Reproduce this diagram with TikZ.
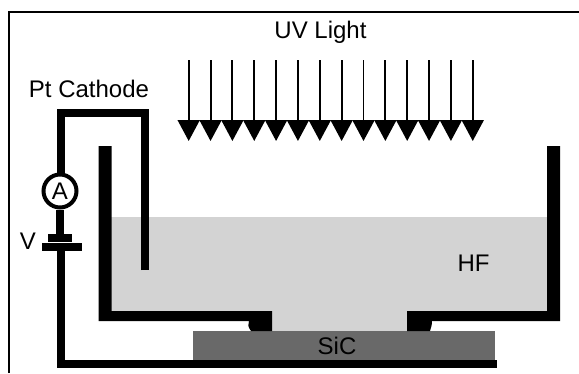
\documentclass[tikz,border=0pt]{standalone}
\usepackage{fontspec}
\setmainfont{Liberation Sans}
\usetikzlibrary{arrows.meta}

\definecolor{hfgray}{HTML}{D3D3D3}
\definecolor{sicgray}{HTML}{696969}

\begin{document}
\begin{tikzpicture}[x=1pt, y=-1pt,
    label/.style={font=\fontsize{24}{24}\selectfont, inner sep=0pt},
    wire/.style={line width=8pt, line join=miter},
    ray/.style={line width=1.9pt, -{Triangle[length=21pt, width=22pt]}},
    plate/.style={rectangle, fill=black, inner sep=0pt}]

    \useasboundingbox (0,0) rectangle (579,373);

    % Frame
    \draw[line width=2.4pt] (9.2,373) -- (9.2,12) -- (579,12);

    % Liquid and substrate
    \fill[hfgray] (111,217) -- (548,217) -- (548,312) -- (407,312) -- (407,332)
        -- (272,332) -- (272,312) -- (111,312) -- cycle;
    \fill[sicgray] (192.7,331) rectangle (495,361);

    % Vessel
    \fill (98.7,146) -- (111.7,146) -- (111.7,311) -- (272,311) -- (272,331)
        -- (251,331) .. controls (248,327) and (247.5,324) .. (249,321)
        -- (98.7,321) -- cycle;
    \fill (547,146) -- (560,146) -- (560,321) -- (432,321)
        .. controls (432,325) and (431,328) .. (430,331)
        -- (407,331) -- (407,311) -- (547,311) -- cycle;

    % Nodes
    \node (light) [label] at (320.5,32) {UV Light};
    \node (cathode) [label] at (89,89) {Pt Cathode};
    \node (hf) [label] at (473.5,263.5) {HF};
    \node (sic) [label] at (337,345.5) {SiC};
    \node (volt) [label] at (28,241) {V};
    \node (ammeter) [circle, draw, line width=4pt, fill=white, minimum size=33pt, inner sep=0pt,
        font=\fontsize{24}{24}\selectfont] at (60,191) {A};
    \node (upper) [plate, minimum width=24.5pt, minimum height=8pt] at (60,238) {};
    \node (lower) [plate, minimum width=40pt, minimum height=8pt] at (61.5,247) {};

    \coordinate (tip) at (145,270);
    \coordinate (bend) at (145,113);
    \coordinate (corner) at (61,113);
    \coordinate (base) at (61,364);
    \coordinate (wireend) at (497,364);

    % Wires
    \draw[wire] (tip) -- (bend) -- (corner) -- (ammeter.north -| corner);
    \draw[wire] (ammeter.south) -- (upper.north);
    \draw[wire] (lower.south -| base) -- (base) -- (wireend);

    % Arrows
    \foreach \i in {0,...,13} {
        \coordinate (top\i) at (188.7+21.85*\i,60);
        \coordinate (bottom\i) at (188.7+21.85*\i,141);
        \draw[ray] (top\i) -- (bottom\i);
    }

\end{tikzpicture}
\end{document}
